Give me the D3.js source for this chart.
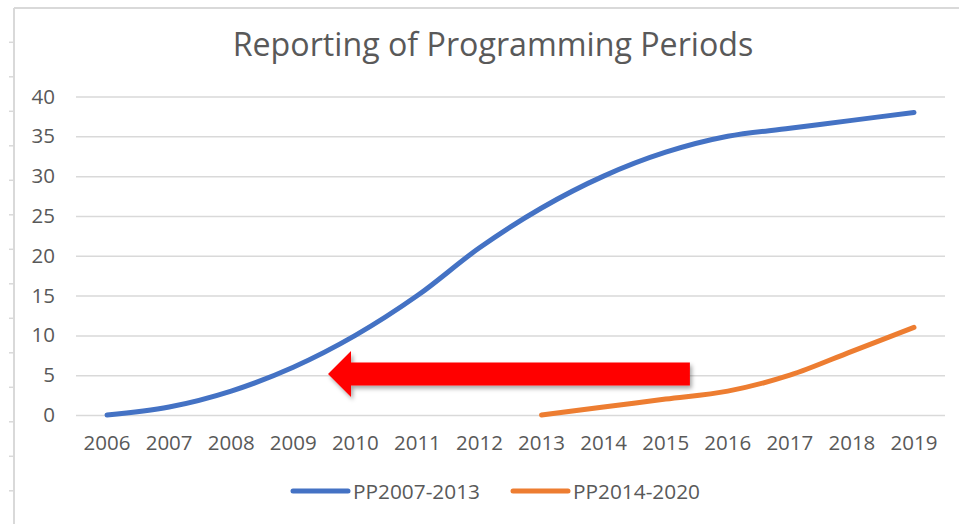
<!DOCTYPE html>
<html>
<head>
<meta charset="utf-8">
<script src="https://cdn.jsdelivr.net/npm/d3@7"></script>
<style>
  body { margin: 0; background: #fff; }
  text { font-family: "Open Sans", "Noto Sans", sans-serif; fill: #595959; }
</style>
</head>
<body>
<div id="chart"></div>
<script>
// values
const years = ['2006', '2007', '2008', '2009', '2010', '2011', '2012',
               '2013', '2014', '2015', '2016', '2017', '2018', '2019'];
const pp0713 = [0, 1, 3, 6, 10, 15, 21, 26, 30, 33, 35, 36, 37, 38];
const pp1420 = [null, null, null, null, null, null, null, 0, 1, 2, 3, 5, 8, 11];
const yTicks = [0, 5, 10, 15, 20, 25, 30, 35, 40];
const seriesNames = ['PP2007-2013', 'PP2014-2020'];
const colors = ['#4472c4', '#ed7d31'];
// arrow annotation in data units: tail year-index, tip year-index, value
const arrowFrom = 9.39, arrowTo = 3.56, arrowAt = 5.15;

const width = 959, height = 524;

let svg = d3.select('#chart').append('svg')
    .attr('width', width)
    .attr('height', height);

let defs = svg.append('defs');
let f = defs.append('filter').attr('id', 'shadow')
    .attr('x', '-10%').attr('y', '-30%').attr('width', '120%').attr('height', '180%');
f.append('feDropShadow')
    .attr('dx', 2).attr('dy', 3).attr('stdDeviation', 2)
    .attr('flood-color', '#000').attr('flood-opacity', 0.35);

// outer frame (part of the slide around the chart)
svg.append('line').attr('x1', 14).attr('x2', 959).attr('y1', 8).attr('y2', 8)
    .attr('stroke', '#d9d9d9').attr('stroke-width', 2);
svg.append('line').attr('x1', 14).attr('x2', 14).attr('y1', 8).attr('y2', 524)
    .attr('stroke', '#d9d9d9').attr('stroke-width', 2);
d3.range(42.3, 524, 34.5).forEach(function(ty) {
    svg.append('line').attr('x1', 9).attr('x2', 14).attr('y1', ty).attr('y2', ty)
        .attr('stroke', '#d9d9d9').attr('stroke-width', 1.5);
});

let x = d3.scaleBand().domain(years).range([76, 945]);
let y = d3.scaleLinear().domain([0, 40]).range([415, 96.5]);
let cx = function(i) { return x(years[i]) + x.bandwidth() / 2; };

// title
let title = svg.append('text')
    .attr('x', 493).attr('y', 56)
    .attr('text-anchor', 'middle')
    .style('font-size', '29px')
    .text('Reporting of Programming Periods');
let tw = title.node().getComputedTextLength();
title.style('font-size', (29 * 521 / tw) + 'px');

// y axis with gridlines
let yAxis = svg.append('g')
    .attr('transform', 'translate(76,0)')
    .call(d3.axisLeft(y).tickValues(yTicks).tickSize(-(945 - 76)).tickPadding(21));
yAxis.select('.domain').remove();
yAxis.selectAll('line').attr('stroke', '#d9d9d9').attr('stroke-width', 1.5);
yAxis.selectAll('text').style('font-size', '20.5px').attr('fill', '#595959');

// x axis
let xAxis = svg.append('g')
    .attr('transform', 'translate(0,415)')
    .call(d3.axisBottom(x).tickSize(0).tickPadding(20));
xAxis.select('.domain').remove();
xAxis.selectAll('text').style('font-size', '20.5px').attr('fill', '#595959');

// series lines
let line = d3.line()
    .defined(function(d) { return d != null; })
    .x(function(d, i) { return cx(i); })
    .y(function(d) { return y(d); })
    .curve(d3.curveCatmullRom.alpha(0.5));

[pp0713, pp1420].forEach(function(s, k) {
    svg.append('path')
        .datum(s)
        .attr('fill', 'none')
        .attr('stroke', colors[k])
        .attr('stroke-width', 5)
        .attr('stroke-linecap', 'round')
        .attr('stroke-linejoin', 'round')
        .attr('d', line);
});

// red arrow annotation
let idx = d3.scaleLinear().domain([0, years.length - 1]).range([cx(0), cx(years.length - 1)]);
let ax0 = idx(arrowFrom), ax1 = idx(arrowTo), ay = y(arrowAt);
let shaft = 11.5, head = 23, headLen = 23;
svg.append('path')
    .attr('fill', '#ff0000')
    .attr('filter', 'url(#shadow)')
    .attr('d', 'M' + ax1 + ',' + ay +
        'L' + (ax1 + headLen) + ',' + (ay - head) +
        'L' + (ax1 + headLen) + ',' + (ay - shaft) +
        'L' + ax0 + ',' + (ay - shaft) +
        'L' + ax0 + ',' + (ay + shaft) +
        'L' + (ax1 + headLen) + ',' + (ay + shaft) +
        'L' + (ax1 + headLen) + ',' + (ay + head) + 'Z');

// legend
let legendX = [293, 513];
seriesNames.forEach(function(name, k) {
    let g = svg.append('g').attr('transform', 'translate(' + legendX[k] + ',491)');
    g.append('line').attr('x1', 0).attr('x2', 55).attr('y1', 0).attr('y2', 0)
        .attr('stroke', colors[k]).attr('stroke-width', 5).attr('stroke-linecap', 'round');
    let t = g.append('text').attr('x', 60).attr('y', 7.5)
        .style('font-size', '20px')
        .text(name);
    let w = t.node().getComputedTextLength();
    t.style('font-size', (20 * 127 / w) + 'px');
});
</script>
</body>
</html>
